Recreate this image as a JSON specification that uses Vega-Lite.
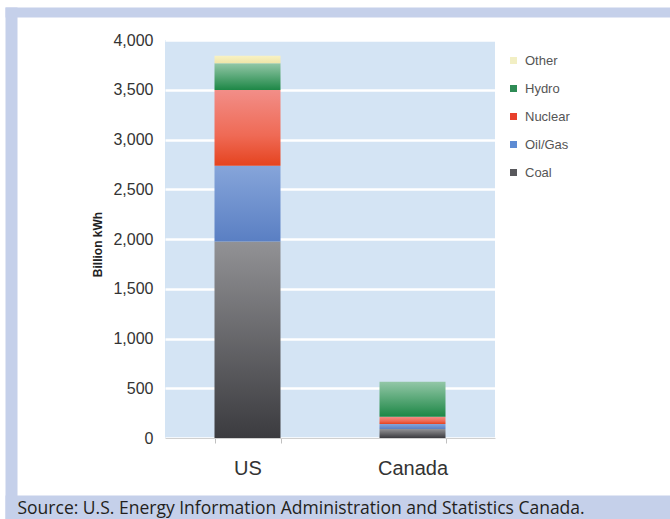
{
  "$schema": "https://vega.github.io/schema/vega-lite/v6.json",
  "width": 330,
  "height": 398,
  "autosize": {"type": "none"},
  "padding": {"left": 165, "top": 40, "right": 175, "bottom": 81},
  "background": "white",
  "config": {
    "view": {"fill": "#d4e4f4", "stroke": null},
    "font": "Liberation Sans"
  },
  "data": {
    "values": [
      {"country": "US", "source": "Coal", "value": 1975},
      {"country": "US", "source": "Oil/Gas", "value": 762},
      {"country": "US", "source": "Nuclear", "value": 760},
      {"country": "US", "source": "Hydro", "value": 269},
      {"country": "US", "source": "Other", "value": 76},
      {"country": "Canada", "source": "Coal", "value": 90},
      {"country": "Canada", "source": "Oil/Gas", "value": 51},
      {"country": "Canada", "source": "Nuclear", "value": 73},
      {"country": "Canada", "source": "Hydro", "value": 352}
    ]
  },
  "transform": [
    {"stack": "value", "groupby": ["country"], "as": ["v0", "v1"]}
  ],
  "mark": {"type": "bar"},
  "encoding": {
    "x": {
      "field": "country",
      "type": "nominal",
      "sort": ["US", "Canada"],
      "scale": {"paddingInner": 0.6, "paddingOuter": 0.3},
      "axis": {
        "zindex": 1,
        "labelAngle": 0,
        "labelFontSize": 20,
        "labelColor": "#333333",
        "labelPadding": 15,
        "tickBand": "extent",
        "tickSize": 5,
        "tickColor": "#c0c0c0",
        "domainColor": "#d0d0d0",
        "domainWidth": 1,
        "grid": false,
        "title": "Source: U.S. Energy Information Administration and Statistics Canada.",
        "titleX": -148,
        "titleY": 75,
        "titleAlign": "left",
        "titleAnchor": "start",
        "titleBaseline": "alphabetic",
        "titleFont": "Open Sans",
        "titleFontSize": 17.5,
        "titleFontWeight": "normal",
        "titleColor": "#231f20",
        "titleLimit": 660
      }
    },
    "y": {
      "field": "v1",
      "type": "quantitative",
      "scale": {"domain": [-800, 4400], "range": [477.6, -39.8], "nice": false, "zero": false},
      "axis": {
        "orient": "right",
        "offset": -490,
        "values": [1758.8, 4281.4, -703.5, 0, 500, 1000, 1500, 2000, 2500, 3000, 3500, 4000],
        "tickCount": 50,
        "format": ",.0f",
        "labelExpr": "datum.value % 500 == 0 ? datum.label : ''",
        "labelAlign": "right",
        "labelPadding": 148,
        "labelFontSize": 16,
        "labelColor": "#333333",
        "labelOverlap": false,
        "labelBound": false,
        "domain": false,
        "ticks": true,
        "tickColor": "#c5d0ea",
        "tickSize": {
          "condition": [
            {"test": "datum.value > 4000 || datum.value < 0", "value": 665},
            {"test": "datum.value % 500 != 0", "value": 12}
          ],
          "value": 0
        },
        "tickWidth": {
          "condition": [
            {"test": "datum.value > 4000", "value": 10},
            {"test": "datum.value < 0", "value": 26},
            {"test": "datum.value % 500 != 0", "value": 512}
          ],
          "value": 1
        },
        "grid": true,
        "gridColor": "white",
        "gridWidth": 2.5,
        "gridOpacity": {
          "condition": {"test": "datum.value % 500 != 0", "value": 0},
          "value": 1
        },
        "title": "Billion kWh",
        "titleAngle": 270,
        "titleX": 92,
        "titleY": 204,
        "titleAlign": "center",
        "titleBaseline": "middle",
        "titleFontSize": 12,
        "titleFontWeight": "bold",
        "titleColor": "#222222"
      }
    },
    "y2": {"field": "v0"},
    "color": {
      "condition": [
        {"test": "datum.source === 'Coal'", "value": {"gradient": "linear", "x1": 0, "y1": 0, "x2": 0, "y2": 1, "stops": [{"offset": 0, "color": "#929295"}, {"offset": 1, "color": "#3b3b3f"}]}},
        {"test": "datum.source === 'Oil/Gas'", "value": {"gradient": "linear", "x1": 0, "y1": 0, "x2": 0, "y2": 1, "stops": [{"offset": 0, "color": "#86a5da"}, {"offset": 1, "color": "#5a7fc3"}]}},
        {"test": "datum.source === 'Nuclear'", "value": {"gradient": "linear", "x1": 0, "y1": 0, "x2": 0, "y2": 1, "stops": [{"offset": 0, "color": "#f28e88"}, {"offset": 0.6, "color": "#ef6a55"}, {"offset": 1, "color": "#e5431f"}]}},
        {"test": "datum.source === 'Hydro'", "value": {"gradient": "linear", "x1": 0, "y1": 0, "x2": 0, "y2": 1, "stops": [{"offset": 0, "color": "#93c7a7"}, {"offset": 1, "color": "#1d8746"}]}},
        {"test": "datum.source === 'Other'", "value": {"gradient": "linear", "x1": 0, "y1": 0, "x2": 0, "y2": 1, "stops": [{"offset": 0, "color": "#f8f2c4"}, {"offset": 1, "color": "#f0e5a8"}]}}
      ],
      "field": "source",
      "type": "nominal",
      "sort": ["Coal", "Oil/Gas", "Nuclear", "Hydro", "Other"],
      "scale": {"range": ["#58585c", "#5d8bd3", "#e8402c", "#2e8b55", "#f2efc4"]},
      "legend": {
        "orient": "none",
        "legendX": 342,
        "legendY": 14,
        "title": null,
        "values": ["Other", "Hydro", "Nuclear", "Oil/Gas", "Coal"],
        "symbolType": "square",
        "symbolSize": 49,
        "symbolStrokeWidth": 0,
        "labelFontSize": 13,
        "labelColor": "#555555",
        "labelOffset": 5,
        "rowPadding": 14
      }
    }
  }
}
